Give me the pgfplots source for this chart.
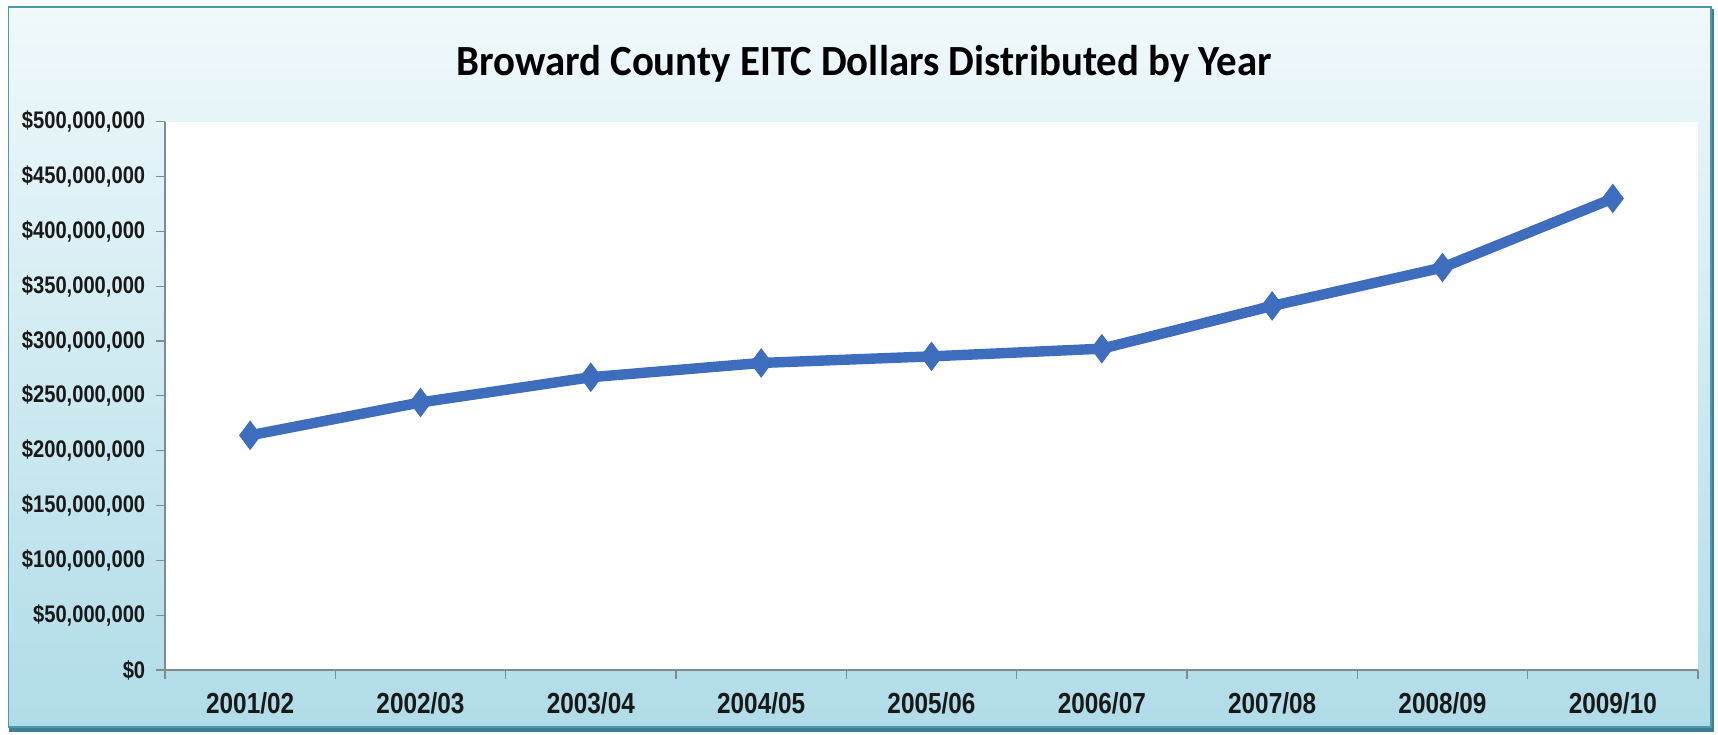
\documentclass[border=0pt]{standalone}
\usepackage{pgfplots}
\pgfplotsset{compat=1.18}
\usepackage{fontspec}
\setmainfont{Liberation Sans}
\newfontfamily\narrowfont{Liberation Sans}[FakeStretch=0.84]
\newfontfamily\titlefont{Carlito}[FakeStretch=0.95]
\definecolor{linecol}{HTML}{3D6DBC}
\definecolor{bgtop}{HTML}{F0F9FB}
\definecolor{bgbot}{HTML}{B0DCE8}
\definecolor{framecol}{HTML}{4F97AC}
\definecolor{shadowcol}{HTML}{3F7F95}
\definecolor{axiscol}{HTML}{7F8C90}
\begin{document}
\begin{tikzpicture}[x=1pt,y=1pt]
\fill[white] (0,0) rectangle (859,367);
\fill[shadowcol] (4.5,1) rectangle (857,362.5);
\shade[top color=bgtop, bottom color=bgbot] (4.2,3.5) rectangle (855.5,363.5);
\draw[framecol, line width=0.8pt] (4.2,3.5) rectangle (855.5,363.5);
\node[font=\titlefont\bfseries\fontsize{21.5}{26}\selectfont, text=black] at (432,335) {Broward County EITC Dollars Distributed by Year};
\begin{axis}[
  scale only axis,
  width=766.5pt, height=274.15pt,
  at={(82.5pt,32pt)}, anchor=south west,
  xmin=0.5, xmax=9.5, ymin=0, ymax=500,
  axis background/.style={fill=white},
  axis x line*=bottom, axis y line*=left,
  axis line style={axiscol, line width=0.6pt, -},
  tick style={axiscol, line width=0.6pt},
  tick align=outside,
  major tick length=4.5pt,
  xtick={0.5,1.5,...,9.5},
  x tick label as interval,
  xticklabels={2001/02,2002/03,2003/04,2004/05,2005/06,2006/07,2007/08,2008/09,2009/10},
  ytick={0,50,100,150,200,250,300,350,400,450,500},
  yticklabels={\$0,{\$50,000,000},{\$100,000,000},{\$150,000,000},{\$200,000,000},{\$250,000,000},{\$300,000,000},{\$350,000,000},{\$400,000,000},{\$450,000,000},{\$500,000,000}},
  xticklabel style={font=\narrowfont\bfseries\fontsize{14.5}{17}\selectfont, text=black!90, anchor=base, yshift=-17pt},
  yticklabel style={font=\narrowfont\bfseries\fontsize{12}{14}\selectfont, text=black!90, anchor=east, inner xsep=0pt, xshift=-5.2pt},
  clip=false,
]
\addplot[linecol, line width=5.2pt, mark=diamond*, mark size=7pt,
  mark options={fill=linecol, draw=linecol, line width=0.5pt}]
  coordinates {(1,214) (2,244) (3,267) (4,280) (5,286) (6,293) (7,332) (8,367) (9,430)};
\end{axis}
\end{tikzpicture}
\end{document}
